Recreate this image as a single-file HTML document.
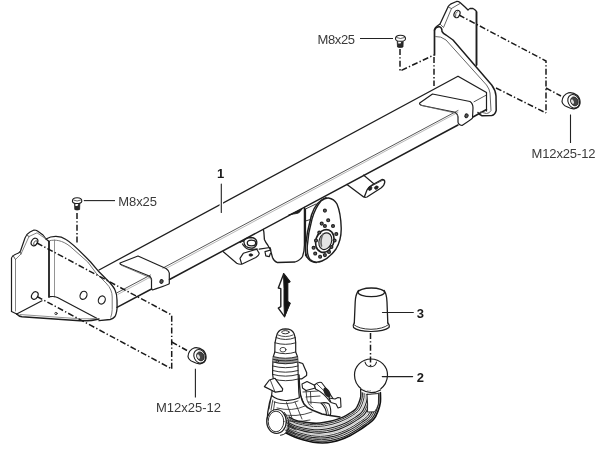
<!DOCTYPE html>
<html><head><meta charset="utf-8"><style>
html,body{margin:0;padding:0;background:#fff;width:600px;height:451px;overflow:hidden}
svg{display:block;filter:grayscale(1)}
.t{font-family:"Liberation Sans",sans-serif;fill:#3a3a3a;font-size:13px}
.b{font-family:"Liberation Sans",sans-serif;fill:#1a1a1a;font-size:13px;font-weight:bold}
</style></head><body>
<svg width="600" height="451" viewBox="0 0 600 451">
<g fill="none" stroke="#1e1e1e" stroke-width="1.2" stroke-linejoin="round" stroke-linecap="round">

<!-- ===== LEFT BRACKET ===== -->
<!-- front plate outer -->
<path d="M11.5,311.5 L11.5,258 Q12,255.5 18.5,253 Q20,252 20.5,251 L25,238 Q27,233.5 30,232 L34,230 Q36,230 37.5,231 L43,235 Q45,237.5 46,239 L49,241.5"/>
<!-- inner thickness lines -->
<path stroke="#777" stroke-width="0.9" d="M15.5,311 L15.5,259.5 L21,254 L29,236.5 L37,232.8 L46,239"/>
<path stroke="#444" stroke-width="0.9" d="M13,255.5 L15.5,259.5 M20.5,251.5 L21,254 M26.5,235 L29,236.5"/>
<path d="M11.5,311.5 L16.7,314"/>
<!-- hole top -->
<ellipse cx="34.5" cy="242" rx="3" ry="4" transform="rotate(30 34.5 242)"/>
<ellipse cx="35.5" cy="243" rx="1.5" ry="2.5" stroke-width="0.7" transform="rotate(30 35.5 243)"/>
<!-- hole bottom -->
<ellipse cx="34.8" cy="295.5" rx="3" ry="4" transform="rotate(30 34.8 295.5)"/>
<!-- gusset vertical edges -->
<path stroke-width="1.8" d="M49,241.5 L49,297"/>
<path stroke="#888" stroke-width="0.9" d="M54.5,240 L54.5,297"/>
<!-- gusset curved outer -->
<path stroke-width="1.3" d="M46,239 C52,235.5 60,235.5 66,239.5 C72,243 80,251 90.6,262 L99,271.8 L110.1,283 Q114,287.5 115,290 Q117,294 117,300 L117.1,308 Q116.5,314 115,316.5 Q113,319 110.1,319.5 L99,320.7"/>
<path stroke="#777" stroke-width="1" d="M50,240.6 C55,239.5 62,240 70,246.3 L87.8,262 L96.2,273.2 L106,283 Q109.5,286.5 110.8,290 Q112.2,293 112.2,297 L112.2,309.5 Q112,314.5 110.8,317.2"/>
<!-- gusset holes -->
<ellipse cx="83.5" cy="295.3" rx="3.3" ry="4.2" transform="rotate(25 83.5 295.3)"/>
<ellipse cx="101.8" cy="300" rx="3.3" ry="4.2" transform="rotate(25 101.8 300)"/>
<!-- base plate -->
<path d="M16.7,314 L42,300.8"/>
<path d="M50,296.7 Q54,296 57.5,297.5 L96.7,318.3"/>
<path stroke-width="1.5" d="M16.7,314 Q19,316.5 22,316.8 L80,320.8 Q92,321 99,319"/>
<path stroke="#777" stroke-width="0.8" d="M20,314.5 L80,318.8 Q90,319 96.7,318.3"/>
<circle cx="56" cy="313.5" r="1.2" stroke-width="0.8"/>

<!-- ===== BEAM ===== -->
<!-- TB -->
<path stroke-width="1.3" d="M99,270 L458,76.2 L486.5,92.5"/>
<!-- FT -->
<path stroke="#444" stroke-width="0.9" d="M117,292.8 L150.5,275 M163,268 L458,110.5 M474,101.8 L486.5,95"/>
<path stroke="#999" stroke-width="0.7" d="M118,294.3 L150.5,277 M166,268.5 L458,112.3"/>
<!-- FB -->
<path stroke-width="1.5" d="M117,307.3 L151.5,289 M169.5,279.5 L458,125 M473,117 L486.5,109.5"/>
<!-- beam end at right -->
<path d="M486.5,93 L486.5,111"/>

<!-- left clip -->
<path d="M120,263 L138,256 L166,268.5 Q169,270.5 169.3,273 L169.3,283.5 Q169,284.5 152.5,290 Q151.5,289.5 151.5,287.5 L151.5,279 Q151,276.5 148,275.5 L122,265 Q119.5,264 120,263 Z"/>
<path stroke="#666" stroke-width="0.8" d="M121.5,265.3 L148.5,277 Q150.5,278 151.5,280"/>
<ellipse cx="161.5" cy="281.5" rx="1.6" ry="1.9" transform="rotate(30 161.5 281.5)" fill="#555" stroke-width="1"/>

<!-- right clip -->
<path d="M419.7,103 L432.5,94 L470,101.5 Q473,103.5 473,108 L472.5,118 Q472,119 462,125.5 Q458,124.5 458,122 L458,117 Q457.5,113 454,112 L422,105.5 Q419,104.5 419.7,103 Z"/>
<path stroke="#666" stroke-width="0.8" d="M421,105.3 L455,113 Q457.5,114 458,117"/>
<ellipse cx="466.5" cy="115.8" rx="1.6" ry="1.9" transform="rotate(30 466.5 115.8)" fill="#555" stroke-width="1"/>

<!-- "1" leader -->
<path stroke="#fff" stroke-width="3.5" d="M221.3,195 L221.3,212.5"/>
<path stroke="#222" stroke-width="1.1" d="M221.3,184 L221.3,212.5"/>

<!-- ===== RIGHT BRACKET ===== -->
<path stroke-width="1.7" d="M434.5,55 L434.5,30"/>
<path stroke-width="1.3" d="M434.5,30 Q435,27.5 436.5,26.5 L440,24 L448,7 Q449,5 450.5,4.2 L456.5,1.5 Q458.5,1.3 460,2.5 L465,7 L468,10 Q469,9 470,8.5 L473,8.5 Q475,9.5 476.5,11.5 L476.5,65"/>
<path stroke-width="1.7" d="M476.5,12 L476.5,65"/>
<path stroke="#555" stroke-width="0.9" d="M440,24 L443.5,27.5 L451.5,8.5 L448,7 M451.5,8.5 L460,3.5"/>
<ellipse cx="457" cy="14" rx="2.8" ry="3.8" stroke-width="1.2" transform="rotate(25 457 14)"/>
<path stroke-width="0.7" d="M455.5,16.5 Q455,13 457.5,11.5"/>
<!-- gusset -->
<path stroke-width="1.5" d="M434.5,30 Q436,26.5 439.5,26.8 Q442,27.5 442,31.5 Q443.5,34 446,35 L453,40 L491.7,85 Q495.5,90 496,96 L496.2,110.5 Q495,115 491.7,115.5 L482,115.7 Q479,114.5 478,112.5"/>
<path stroke="#666" stroke-width="1" d="M435.5,36.5 Q441,36 446,40 L486.5,85 Q489.5,89 490,93 L491,110.5 Q489.5,113.5 486.5,113.5 L480.5,112"/>

<!-- ===== CENTER MOUNT ===== -->
<!-- shadow under beam -->
<path fill="#1e1e1e" stroke-width="0.8" d="M288.8,215 L302,209 Q300,212.5 298,213.2 Q294,214 288.8,215 Z"/>
<!-- housing -->
<path stroke-width="1.3" d="M263.3,229.4 Q264,232 264,234 L264.4,239.4 Q266,243 267.7,245 L270.5,250 L272.5,257.5 Q274,261.5 277.5,262.5 L295,262 Q300.5,260 302.5,256.5 Q304.4,251 304.4,245 L304.4,207.5"/>
<path d="M305.5,209 L305.5,255.5 Q307,258.5 311,259.5"/>
<path stroke-width="0.9" d="M305.5,209 L316,204 M305.5,221 L312,219"/>
<!-- lower left bracket -->
<path d="M223.3,251.7 L236.7,263.3 Q239,264.5 241.7,264.2 L255.8,257.5 Q259,255.5 259.2,253.3 L256.7,249.2 L243.3,253.3 L240,258.3 L241.7,264.2"/>
<path stroke-width="1.3" d="M240,242.5 L244,240.5 Q246,237.7 251,237.5 Q256.5,238 256.8,242 Q257,246.5 253,248 Q249,248.5 246,246.5 Q243.5,244.5 244,240.5"/>
<ellipse cx="251.5" cy="243" rx="4.2" ry="2.9" stroke-width="1.3"/>
<path d="M242.5,244 Q245,248.5 249,249.5 L257.5,249"/>
<ellipse cx="250.8" cy="255" rx="1.8" ry="1.2" fill="#222" stroke-width="0.7"/>
<path d="M259.2,249.2 L270,247.5 L270.8,250 L265,251.7 L265.8,255.8 L269.2,256.7 L270.5,253.3"/>
<!-- socket plate -->
<path fill="#fff" stroke-width="1.5" d="M326,197.6 C319,200 314,207 311.5,215 L307.5,232 L305.5,246 C305.2,252 306,256.5 308.5,259 C311,261.5 313.5,262.5 316.5,262.5"/>
<path fill="#fff" stroke-width="1.4" d="M328.5,198 C332,198.5 335,200.5 337,204 C339.5,210 341,220 341.2,228 C341.4,236 339.5,243 336,249 C332,254.5 327,259 322,261 C318,262.5 313,262.5 310,259.5 C307.5,256 307,251 307.3,246 C307.8,238 309.5,228 312,219 C314,212 317.5,205 321,201 C323.5,199 326,197.8 328.5,198 Z"/>
<ellipse cx="324.8" cy="241" rx="9" ry="11.6" transform="rotate(20 324.8 241)" stroke-width="1.6"/>
<ellipse cx="325.3" cy="241.2" rx="6.2" ry="8.6" transform="rotate(20 325.3 241.2)" stroke-width="1.1" fill="#e4e4e4"/>
<path stroke="#666" stroke-width="1.6" d="M321.5,246 Q320,240 323,234"/>
<g fill="#666" stroke="#222" stroke-width="1.2">
<circle cx="324.9" cy="210.6" r="1.45"/>
<circle cx="328.2" cy="220.3" r="1.45"/>
<circle cx="321.7" cy="223.6" r="1.45"/>
<circle cx="324.9" cy="226" r="1.45"/>
<circle cx="333" cy="226" r="1.45"/>
<circle cx="336.3" cy="234" r="1.45"/>
<circle cx="334.6" cy="240.5" r="1.45"/>
<circle cx="331.4" cy="247" r="1.45"/>
<circle cx="329" cy="251.9" r="1.45"/>
<circle cx="324.9" cy="255.1" r="1.45"/>
<circle cx="320.1" cy="256.7" r="1.45"/>
<circle cx="315.2" cy="253.5" r="1.45"/>
<circle cx="313.6" cy="247.8" r="1.45"/>
<circle cx="316" cy="240.5" r="1.45"/>
<circle cx="319.3" cy="232.5" r="1.45"/>
</g>
<!-- right tab under beam -->
<path stroke-width="1.3" d="M347,184.5 L362,195.8 Q364,198 367,197 L381,188 Q384.5,185.5 384.8,182 Q384.8,179.5 382,179.5 L372,185 Q368,187.5 367,190 L364.5,196.5"/>
<path stroke-width="1.1" d="M363.5,175 L373.5,183.5"/>
<path stroke-width="0.8" d="M367.5,189.5 L371,186.3 L382.5,180.3"/>
<ellipse cx="370" cy="188.3" rx="1.7" ry="2.3" transform="rotate(30 370 188.3)" fill="#222" stroke-width="0.6"/>
<ellipse cx="376.3" cy="187.6" rx="2" ry="1.6" transform="rotate(-30 376.3 187.6)" fill="#222" stroke-width="0.6"/>

<!-- ===== ARROW ===== -->
<path fill="#fff" stroke-width="1.4" d="M283.7,273.7 L278.3,288 L280.8,288.7 L280.8,306.6 L278.3,308.1 L284.5,316.7 L289.5,303 L287.6,301.6 L287.6,283 L289.9,281.7 Z"/>
<path fill="#111" stroke-width="1" d="M283.7,273.7 L289.9,281.7 L287.6,283 L287.6,301.6 L290.4,303.1 L284.5,316.7 L284,305 L284,289 Z"/>

<!-- ===== CAP (3) ===== -->
<path stroke-width="1.3" d="M358.5,290.5 Q355.5,294.5 355.2,302 L354.3,323"/>
<path stroke-width="1.3" d="M384.2,290.5 Q386.8,294.5 387,302 L387.8,323"/>
<ellipse cx="371.3" cy="292.3" rx="13.3" ry="4.3" stroke-width="1.3"/>
<path stroke-width="1.2" d="M354.3,322.8 Q352.5,325 353.5,327.5 Q357.5,331.3 371,331.5 Q384.5,331.3 389,327.5 Q390,325 387.8,322.8"/>
<path stroke-width="0.9" d="M354,324.8 Q359,329 371,329.3 Q383,329 388.2,324.8"/>
<path stroke="#222" stroke-width="1.2" d="M382.5,312.5 L413.3,312.5"/>

<!-- ===== BALL (2) ===== -->
<path d="M362,389.5 Q354.5,384 354.5,375 A16.5,16 0 0 1 387.5,375 Q387.5,384 379.5,390"/>
<path stroke-width="1.1" d="M365,362 Q366,366.5 370.8,366.8 Q375.5,366.5 376.5,362"/>
<path stroke="#222" stroke-width="1.2" d="M382.3,376.6 L412.6,376.6"/>
</g>

<!-- ===== DASH-DOT LINES ===== -->
<g fill="none" stroke="#1a1a1a" stroke-width="1.5" stroke-dasharray="6 2.2 1.4 2.2">
<path d="M37,243 L171.7,315 L171.7,368.8"/>
<path d="M37,296.5 L171.7,368.8"/>
<path d="M171.7,342 L187,350.5"/>
<path d="M77,213 L77,243"/>
<path d="M400,49 L400,71 L434,55"/>
<path d="M434,57 L434,86"/>
<path d="M459,15 L546,61 L546,113"/>
<path d="M496,88 L546,113"/>
<path d="M546,88 L561,96"/>
<path d="M370.5,333 L370.5,366"/>
</g>

<!-- ===== SCREWS & NUTS ===== -->
<g stroke="#1e1e1e" stroke-width="1" fill="#fff">
<path fill="#2a2a2a" stroke-width="0.8" d="M397.2,40.5 L403.2,40.5 L403,47 Q400,48 397.5,47 Z"/>
<path fill="#fff" stroke="none" d="M398.2,41.3 L401.5,41.3 L400.5,43.5 L398.2,43.5 Z"/>
<path fill="#fff" stroke-width="1.1" d="M395.5,39 Q395.3,35.3 400.5,35.3 Q405.7,35.3 405.5,39 Q405,41.3 400.5,41.3 Q396,41.3 395.5,39 Z"/>
<path stroke-width="0.7" fill="none" d="M396.5,37.5 Q400.5,39.5 404.5,37.5"/>
<path fill="#2a2a2a" stroke-width="0.8" d="M74.5,203 L79.8,203 L79.6,209.5 Q77,210.5 74.8,209.5 Z"/>
<path fill="#fff" stroke="none" d="M75.4,203.8 L78.4,203.8 L77.5,206 L75.4,206 Z"/>
<path fill="#fff" stroke-width="1.1" d="M72.4,201.3 Q72.2,197.8 77.1,197.8 Q82,197.8 81.8,201.3 Q81.3,203.5 77.1,203.5 Q72.9,203.5 72.4,201.3 Z"/>
<path stroke-width="0.7" fill="none" d="M73.4,200 Q77.1,202 80.8,200"/>
<!-- nut right -->
<g transform="translate(574,102)"><path fill="#fff" stroke-width="1.2" d="M-12,-0.5 Q-11.5,-7 -5.5,-9.2 Q-1,-10 3.5,-6.5 Q6.5,-3 6,1.5 Q5,6 0,6.8 Q-3,7 -7,4.8 Q-11.5,3 -12,-0.5 Z"/>
<ellipse cx="0" cy="-0.8" rx="5.6" ry="7" transform="rotate(-25)" stroke-width="1.1"/>
<ellipse cx="0.6" cy="-0.4" rx="3.6" ry="4.6" transform="rotate(-25)" fill="#444" stroke-width="0.8"/>
<ellipse cx="-1.2" cy="-1" rx="1.3" ry="2.4" transform="rotate(-25)" fill="#ddd" stroke="none"/></g>
<!-- nut left -->
<g transform="translate(200,357)"><path fill="#fff" stroke-width="1.2" d="M-12,-0.5 Q-11.5,-7 -5.5,-9.2 Q-1,-10 3.5,-6.5 Q6.5,-3 6,1.5 Q5,6 0,6.8 Q-3,7 -7,4.8 Q-11.5,3 -12,-0.5 Z"/>
<ellipse cx="0" cy="-0.8" rx="5.6" ry="7" transform="rotate(-25)" stroke-width="1.1"/>
<ellipse cx="0.6" cy="-0.4" rx="3.6" ry="4.6" transform="rotate(-25)" fill="#444" stroke-width="0.8"/>
<ellipse cx="-1.2" cy="-1" rx="1.3" ry="2.4" transform="rotate(-25)" fill="#ddd" stroke="none"/></g>
</g>
<g stroke="#222" stroke-width="1.1">
<line x1="393" y1="38.5" x2="360" y2="38.5"/>
<line x1="83.8" y1="200.6" x2="115" y2="200.6"/>
<line x1="570.5" y1="114.5" x2="570.5" y2="143"/>
<line x1="195.4" y1="368.8" x2="195.4" y2="397.6"/>
</g>

<!-- ===== TOW BAR NECK / ASSEMBLY ===== -->
<g fill="none" stroke="#1e1e1e" stroke-width="1.1" stroke-linejoin="round" stroke-linecap="round">
<!-- body region fill -->
<path fill="#fff" stroke="none" d="M271.6,395.5 L267.5,412 L268,430 L279,434 L296,438 L318,441.6 L339,436 L369,421 L380.4,403 L380.4,392.6 L360.7,389.5 L360.7,400.5 L345.7,412.3 L330,415 L312,410 L304,404 L300.5,395 L299.4,375 Z"/>
<!-- arm stripes -->
<path fill="#eeeeee" stroke="none" d="M360.7,389.5 C360.7,390.7 361.0,394.3 360.7,396.6 C360.4,398.8 359.6,401.1 358.7,403.2 C357.8,405.4 356.9,407.6 355.4,409.2 C353.9,410.9 351.6,412.1 349.6,413.3 C347.6,414.6 345.6,415.8 343.5,416.8 C341.4,417.8 339.2,418.6 336.9,419.3 C334.7,420.1 332.4,420.7 330.1,421.2 C327.8,421.7 325.5,422.2 323.2,422.5 C320.9,422.9 318.5,423.1 316.2,423.2 C313.9,423.2 311.5,423.0 309.2,422.7 C306.8,422.5 304.5,422.2 302.2,421.8 C299.9,421.4 297.5,420.9 295.3,420.1 C293.1,419.3 290.1,417.5 289.0,417.0 L286.0,433.0 L294.6,437.1 L303.7,440.0 L313.0,442.2 L322.5,443.0 L331.9,442.0 L341.1,439.5 L349.9,435.8 L358.2,430.9 L366.0,425.5 L373.5,419.6 L378.0,411.1 L380.4,402.2 L380.4,392.6 Z"/>
<path stroke="#1a1a1a" stroke-width="1.4" d="M360.7,389.5 C360.7,390.7 361.0,394.3 360.7,396.6 C360.4,398.8 359.6,401.1 358.7,403.2 C357.8,405.4 356.9,407.6 355.4,409.2 C353.9,410.9 351.6,412.1 349.6,413.3 C347.6,414.6 345.6,415.8 343.5,416.8 C341.4,417.8 339.2,418.6 336.9,419.3 C334.7,420.1 332.4,420.7 330.1,421.2 C327.8,421.7 325.5,422.2 323.2,422.5 C320.9,422.9 318.5,423.1 316.2,423.2 C313.9,423.2 311.5,423.0 309.2,422.7 C306.8,422.5 304.5,422.2 302.2,421.8 C299.9,421.4 297.5,420.9 295.3,420.1 C293.1,419.3 290.1,417.5 289.0,417.0"/>
<path stroke="#333" stroke-width="1.0" d="M362.3,389.8 C362.3,391.0 362.7,394.7 362.3,397.0 C362.0,399.4 361.2,401.7 360.3,403.9 C359.4,406.1 358.4,408.4 356.9,410.1 C355.3,411.9 353.0,413.0 351.0,414.4 C349.0,415.7 346.9,416.9 344.7,417.9 C342.5,419.0 340.3,419.9 338.0,420.7 C335.7,421.5 333.4,422.2 331.0,422.7 C328.7,423.3 326.3,423.8 323.9,424.2 C321.5,424.5 319.1,424.8 316.7,424.8 C314.3,424.9 311.9,424.6 309.5,424.4 C307.1,424.1 304.7,423.8 302.3,423.3 C300.0,422.8 297.5,422.3 295.3,421.5 C293.0,420.7 289.8,418.9 288.7,418.3"/>
<path stroke="#333" stroke-width="1.0" d="M364.0,390.0 C364.0,391.3 364.3,395.1 364.0,397.5 C363.6,399.9 362.8,402.3 361.9,404.6 C361.0,406.8 360.0,409.2 358.4,411.0 C356.8,412.8 354.4,414.0 352.4,415.4 C350.3,416.7 348.1,418.0 345.9,419.1 C343.7,420.2 341.4,421.2 339.1,422.1 C336.8,422.9 334.4,423.6 332.0,424.3 C329.6,424.9 327.1,425.4 324.7,425.8 C322.2,426.2 319.7,426.4 317.3,426.5 C314.8,426.5 312.3,426.3 309.8,426.0 C307.3,425.7 304.9,425.3 302.4,424.8 C300.0,424.3 297.5,423.8 295.2,422.9 C292.9,422.1 289.6,420.2 288.5,419.7"/>
<path stroke="#aaa" stroke-width="0.6" d="M365.6,390.3 C365.6,391.6 366.0,395.5 365.6,398.0 C365.3,400.5 364.5,402.9 363.5,405.2 C362.6,407.5 361.5,410.0 359.9,411.8 C358.3,413.7 355.9,415.0 353.7,416.4 C351.6,417.8 349.4,419.1 347.1,420.3 C344.9,421.5 342.6,422.5 340.2,423.4 C337.8,424.4 335.3,425.1 332.9,425.8 C330.4,426.4 327.9,427.0 325.4,427.4 C322.9,427.8 320.3,428.1 317.8,428.1 C315.2,428.2 312.6,427.9 310.1,427.6 C307.6,427.3 305.1,426.9 302.6,426.4 C300.1,425.8 297.5,425.2 295.2,424.3 C292.8,423.5 289.4,421.6 288.2,421.0"/>
<path stroke="#222" stroke-width="1.1" d="M367.3,390.5 C367.3,391.8 367.6,395.9 367.3,398.4 C366.9,401.0 366.1,403.5 365.1,405.9 C364.1,408.2 363.1,410.8 361.4,412.7 C359.8,414.6 357.3,415.9 355.1,417.4 C352.9,418.8 350.7,420.2 348.4,421.5 C346.1,422.7 343.7,423.8 341.3,424.8 C338.8,425.8 336.3,426.6 333.8,427.3 C331.3,428.0 328.7,428.6 326.1,429.0 C323.5,429.4 320.9,429.7 318.3,429.8 C315.7,429.8 313.0,429.6 310.4,429.2 C307.8,428.9 305.3,428.4 302.7,427.9 C300.2,427.3 297.6,426.7 295.1,425.8 C292.6,424.8 289.2,422.9 288.0,422.3"/>
<path stroke="#333" stroke-width="1.0" d="M368.9,390.8 C368.9,392.1 369.3,396.3 368.9,398.9 C368.5,401.5 367.7,404.1 366.7,406.5 C365.7,409.0 364.6,411.6 362.9,413.6 C361.2,415.5 358.7,416.9 356.5,418.4 C354.2,419.9 351.9,421.4 349.6,422.7 C347.2,424.0 344.8,425.2 342.4,426.2 C339.9,427.2 337.3,428.1 334.7,428.8 C332.1,429.6 329.5,430.2 326.8,430.7 C324.2,431.1 321.5,431.4 318.8,431.4 C316.2,431.5 313.4,431.2 310.8,430.9 C308.1,430.5 305.5,430.0 302.8,429.4 C300.2,428.8 297.6,428.1 295.0,427.2 C292.5,426.2 289.0,424.3 287.8,423.7"/>
<path stroke="#222" stroke-width="1.1" d="M370.5,391.1 C370.5,392.4 370.9,396.7 370.5,399.4 C370.2,402.1 369.4,404.7 368.3,407.2 C367.3,409.7 366.2,412.4 364.4,414.4 C362.7,416.4 360.1,417.8 357.8,419.4 C355.6,421.0 353.2,422.5 350.8,423.8 C348.4,425.2 346.0,426.5 343.4,427.5 C340.9,428.6 338.3,429.6 335.6,430.4 C333.0,431.2 330.3,431.8 327.6,432.3 C324.9,432.7 322.1,433.0 319.4,433.1 C316.6,433.1 313.8,432.9 311.1,432.5 C308.3,432.1 305.6,431.6 303.0,430.9 C300.3,430.3 297.6,429.6 295.0,428.6 C292.4,427.6 288.7,425.6 287.5,425.0"/>
<path stroke="#aaa" stroke-width="0.6" d="M372.2,391.3 C372.2,392.7 372.6,397.1 372.2,399.8 C371.8,402.6 371.0,405.3 370.0,407.8 C368.9,410.4 367.8,413.2 366.0,415.3 C364.2,417.4 361.5,418.8 359.2,420.4 C356.9,422.0 354.5,423.6 352.0,425.0 C349.6,426.4 347.1,427.8 344.5,428.9 C341.9,430.1 339.3,431.1 336.6,431.9 C333.8,432.7 331.1,433.4 328.3,433.9 C325.5,434.4 322.7,434.7 319.9,434.7 C317.1,434.8 314.2,434.5 311.4,434.1 C308.6,433.7 305.8,433.1 303.1,432.4 C300.3,431.7 297.6,431.0 294.9,430.0 C292.3,429.0 288.5,426.9 287.2,426.3"/>
<path stroke="#333" stroke-width="1.0" d="M373.8,391.6 C373.8,393.0 374.2,397.5 373.8,400.3 C373.5,403.1 372.6,405.9 371.6,408.5 C370.5,411.1 369.3,414.0 367.5,416.1 C365.6,418.3 362.9,419.7 360.6,421.4 C358.2,423.1 355.8,424.7 353.3,426.2 C350.8,427.7 348.2,429.1 345.6,430.3 C343.0,431.5 340.2,432.5 337.5,433.4 C334.7,434.3 331.9,435.0 329.0,435.5 C326.2,436.0 323.3,436.3 320.4,436.4 C317.5,436.4 314.6,436.1 311.7,435.7 C308.8,435.3 306.0,434.7 303.2,433.9 C300.4,433.2 297.6,432.5 294.9,431.4 C292.2,430.4 288.3,428.3 287.0,427.7"/>
<path stroke="#222" stroke-width="1.1" d="M375.5,391.8 C375.5,393.3 375.9,397.9 375.5,400.8 C375.1,403.7 374.3,406.5 373.2,409.2 C372.1,411.9 370.9,414.8 369.0,417.0 C367.1,419.2 364.3,420.7 361.9,422.4 C359.5,424.2 357.0,425.8 354.5,427.4 C352.0,428.9 349.4,430.4 346.7,431.6 C344.0,432.9 341.2,434.0 338.4,434.9 C335.6,435.9 332.7,436.6 329.7,437.1 C326.8,437.7 323.9,438.0 320.9,438.0 C318.0,438.1 315.0,437.8 312.0,437.4 C309.1,436.9 306.2,436.2 303.4,435.5 C300.5,434.7 297.6,433.9 294.8,432.9 C292.0,431.8 288.1,429.6 286.8,429.0"/>
<path stroke="#333" stroke-width="1.0" d="M377.1,392.1 C377.1,393.6 377.5,398.3 377.1,401.2 C376.7,404.2 375.9,407.1 374.8,409.8 C373.7,412.6 372.4,415.6 370.5,417.9 C368.6,420.1 365.8,421.7 363.3,423.4 C360.8,425.2 358.3,427.0 355.7,428.6 C353.1,430.2 350.5,431.7 347.8,433.0 C345.0,434.3 342.2,435.5 339.3,436.5 C336.4,437.4 333.4,438.2 330.5,438.8 C327.5,439.3 324.5,439.6 321.5,439.7 C318.5,439.7 315.3,439.4 312.3,439.0 C309.4,438.5 306.4,437.8 303.5,437.0 C300.5,436.2 297.6,435.4 294.7,434.3 C291.9,433.2 287.9,431.0 286.5,430.3"/>
<path stroke="#222" stroke-width="1.1" d="M378.8,392.3 C378.8,393.9 379.1,398.7 378.8,401.7 C378.4,404.7 377.5,407.6 376.4,410.5 C375.3,413.3 374.0,416.4 372.0,418.7 C370.1,421.0 367.2,422.6 364.7,424.5 C362.2,426.3 359.6,428.1 357.0,429.7 C354.3,431.4 351.6,433.0 348.9,434.4 C346.1,435.8 343.2,437.0 340.2,438.0 C337.3,439.0 334.2,439.8 331.2,440.4 C328.2,440.9 325.1,441.3 322.0,441.3 C318.9,441.4 315.7,441.1 312.7,440.6 C309.6,440.1 306.6,439.3 303.6,438.5 C300.6,437.7 297.6,436.8 294.7,435.7 C291.8,434.6 287.7,432.3 286.2,431.7"/>
<path stroke="#111" stroke-width="1.6" d="M380.4,392.6 C380.4,394.2 380.8,399.1 380.4,402.2 C380.0,405.3 379.2,408.2 378.0,411.1 C376.9,414.0 375.5,417.2 373.5,419.6 C371.5,422.0 368.6,423.6 366.0,425.5 C363.5,427.4 360.9,429.2 358.2,430.9 C355.5,432.6 352.8,434.3 349.9,435.8 C347.1,437.2 344.1,438.5 341.1,439.5 C338.1,440.6 335.0,441.4 331.9,442.0 C328.8,442.6 325.7,442.9 322.5,443.0 C319.4,443.0 316.1,442.7 313.0,442.2 C309.9,441.7 306.8,440.9 303.7,440.0 C300.7,439.2 297.6,438.3 294.6,437.1 C291.7,435.9 287.4,433.7 286.0,433.0"/>
<!-- neck collar -->
<path fill="#fff" stroke="none" d="M361.5,388 Q371,394 380.5,388.5 L380.5,392 Q371,396 361.5,392 Z"/>
<path stroke-width="1.1" d="M361.5,389.5 Q371,395.5 380.5,390"/>
<path fill="#fff" stroke-width="0.9" d="M367,394.5 L378.6,393.5 L378.4,404 Q377,409 374.5,411.8 L367.5,412 Q368,405 367,394.5 Z"/>
<!-- shaft -->
<path fill="#fff" stroke-width="1.2" d="M277.3,333.5 Q279.5,329 285.4,328.9 Q292,329 294,333.5 L295.2,337.6 L295.7,342.8 L295.7,352 L297.5,356.6 L298,365.8 L298.3,379 L298.8,392.2 L299.4,397.7 Q292,401 285,400.5 Q277,400 271.6,395.5 L273.3,379 L272.6,374 L272.7,365.8 L273.3,356.6 L274.8,352 L275,342.8 L276.1,337.6 Z"/>
<ellipse cx="285.4" cy="332.2" rx="3.8" ry="1.6" stroke-width="0.9"/>
<path stroke-width="0.8" d="M278,335 Q285.5,338.3 293,335"/>
<path fill="#9a9a9a" stroke="none" d="M273.3,356.6 Q285,360 297.5,356.6 L297.9,362.5 Q285,366 272.9,362.5 Z"/>
<path stroke-width="0.9" d="M276.1,337.6 Q285.5,341.5 295.2,337.6 M275,342.8 Q285.5,346 295.7,342.8 M274.8,352 Q285.5,355.5 295.7,352 M273.3,356.6 Q285.5,360 297.5,356.6 M273,359.3 Q285.5,362.5 297.7,359.3 M272.9,362 Q285.5,365.5 297.9,362 M272.7,366 Q285.5,369.5 298,366 M272.6,370.5 Q285.5,374 298.1,370.5 M272.6,374.4 Q285.5,378 298.2,374.4 M273.2,379 Q285.5,382.5 298.3,379"/>
<ellipse cx="283" cy="349.7" rx="3" ry="2.3" stroke-width="0.8"/>
<circle cx="277.3" cy="361.2" r="1.3" stroke-width="0.7"/>
<!-- wings -->
<path fill="#fff" stroke-width="1.2" d="M264.4,386.6 L269.4,380 L275,378.3 L282.7,388.9 L282.2,391.1 L275.5,392.2 Z"/>
<path stroke-width="0.8" d="M270.5,380.5 L275,392"/>
<path fill="#fff" stroke-width="1.2" d="M299,362.4 L302.7,363.5 L306.7,372.7 L306.6,375.5 L301.6,378.9 L298.8,378.9"/>
<!-- body -->
<path stroke-width="1.3" d="M271.6,395.5 L269.4,403.3 L267.8,412.1 L267.2,420"/>
<path stroke-width="0.8" d="M274,402 Q286,406 298,401 M277,408 Q292,412 305,406 M280,414 Q296,418 312,412 M286.5,402.5 L292,418 M295,402 L302,419 M282,420 Q295,423 310,420 M300.5,395 L304,404"/>
<!-- knob socket outline -->
<path stroke-width="1.4" d="M299,375 L299.5,385 L300.5,395 Q302,401 304,404 Q307,408 312,410 L322,414 L330,415.5 L340,417"/>
<!-- boss -->
<ellipse cx="276.5" cy="421.5" rx="9.8" ry="12" fill="#fff" stroke-width="1.2"/>
<ellipse cx="276" cy="421.5" rx="7.8" ry="10.3" stroke-width="0.9"/>
<path stroke-width="1" d="M284.5,412.5 Q289.5,419 288.8,428 Q287,434.5 280.5,435.3"/>
<path stroke-width="0.8" d="M270.8,399 L269,409 M272.8,400 L271,410 M274.8,401.5 L273.5,410"/>
<path stroke-width="0.8" d="M286,422 L294,428 M285,430 L295,434 M287,426 L296,430"/>
<!-- knob -->
<path fill="#fff" stroke-width="1.1" d="M302,384 L307,381.5 L314,385 L315.5,388 L306,390.5 L302.5,388 Z"/>
<path fill="#fff" stroke-width="1.1" d="M314.5,385 Q318,381.5 321.5,382.5 Q327,389 333,398.5 Q333.5,401 330,401.8 Q324,393 315.5,389 Z"/>
<path stroke-width="0.8" d="M317,384 Q324,389.5 331,400"/>
<ellipse cx="327" cy="392.5" rx="2.8" ry="5.5" transform="rotate(-30 327 392.5)" fill="#222" stroke="none"/>
<path fill="#fff" stroke-width="1.1" d="M329,398 L335,399 L338,397.5 L340.5,398 L341,407 L338,408 L336,404 L331,402.5 Z"/>
<path fill="#fff" stroke-width="1.1" d="M321,403 Q326,402 329,404 Q331.5,409 330.5,415 L326.5,415 Q326.5,408 321,403 Z"/>
<path stroke-width="0.7" d="M323.5,403 Q328,408 328.5,415"/>
<path stroke-width="0.8" d="M306,390.5 L307,400 Q309,406 313,408 M303,392 L318,391 M306,397 L320,396 M308,402 L321,403 M310.5,392 L311,404"/>
</g>

<!-- ===== LABELS ===== -->
<text class="t" x="317.5" y="43.7" font-size="13.6" textLength="37.5" lengthAdjust="spacing">M8x25</text>
<text class="t" x="118.3" y="205.5" font-size="13.6" textLength="38.6" lengthAdjust="spacing">M8x25</text>
<text class="t" x="531.5" y="158" font-size="13.4" textLength="64" lengthAdjust="spacing">M12x25-12</text>
<text class="t" x="156" y="412" font-size="13.4" textLength="65" lengthAdjust="spacing">M12x25-12</text>
<text class="b" x="217" y="178.3" font-size="12">1</text>
<text class="b" x="416.8" y="318" font-size="14">3</text>
<text class="b" x="416.8" y="382.1" font-size="13.5">2</text>
</svg>
</body></html>
